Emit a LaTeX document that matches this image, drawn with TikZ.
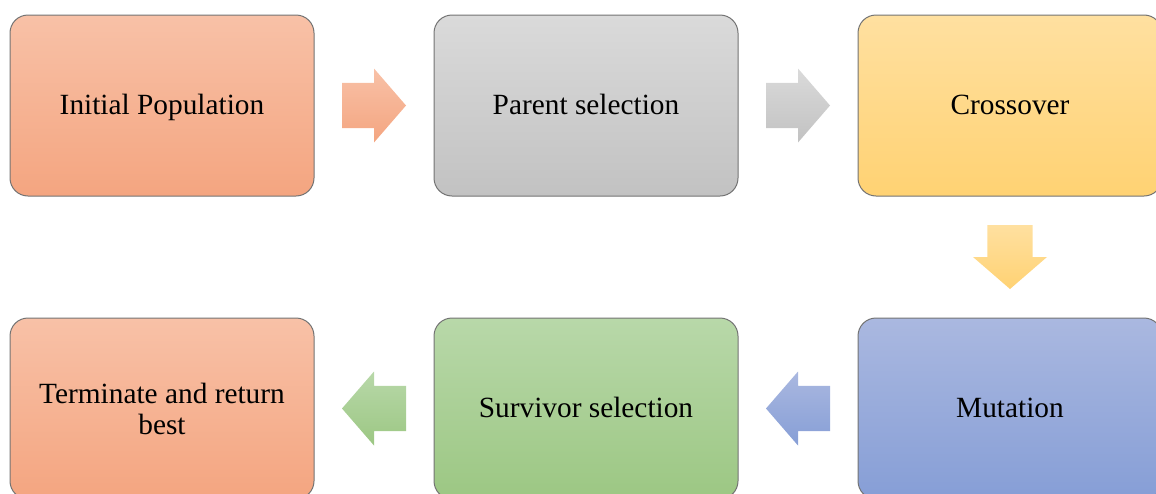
\documentclass[tikz,border=0pt]{standalone}
\usepackage{fontspec}
\setmainfont{Liberation Serif}
\usetikzlibrary{positioning,calc}
\definecolor{salmontop}{RGB}{248,193,167}
\definecolor{salmonbot}{RGB}{244,165,128}
\definecolor{greytop}{RGB}{218,218,218}
\definecolor{greybot}{RGB}{194,194,194}
\definecolor{goldtop}{RGB}{255,224,160}
\definecolor{goldbot}{RGB}{255,210,115}
\definecolor{bluetop}{RGB}{170,184,224}
\definecolor{bluebot}{RGB}{134,158,214}
\definecolor{greentop}{RGB}{184,216,169}
\definecolor{greenbot}{RGB}{156,199,131}
\newcommand{\stagestrut}{\rule[-6.6pt]{0pt}{27.4pt}}
\tikzset{
  stage/.style={draw=black!55, line width=0.75pt, rounded corners=13.5pt,
    minimum width=228pt, minimum height=135.75pt, align=center, outer sep=0pt,
    font=\fontsize{22}{23.5}\selectfont, execute at begin node=\stagestrut},
  twoline/.style={text height=39pt, text depth=0pt},
  salmon/.style={top color=salmontop, bottom color=salmonbot},
  grey/.style={top color=greytop, bottom color=greybot},
  gold/.style={top color=goldtop, bottom color=goldbot},
  blue/.style={top color=bluetop, bottom color=bluebot},
  green/.style={top color=greentop, bottom color=greenbot},
}
% block arrow half-way between two anchors
\newcommand{\blockarrow}[3]{%
  \path (#1) -- coordinate[pos=0.5] (ba-mid) (#2);
  \coordinate (ba-back) at ($(ba-mid)!-24pt!(#2)$);
  \coordinate (ba-tip) at ($(ba-mid)!24pt!(#2)$);
  \shade[#3] ($(ba-back)!16.9pt!90:(#2)$) -- ($(ba-mid)!16.9pt!90:(#2)$)
    -- ($(ba-mid)!27.75pt!90:(#2)$) -- (ba-tip)
    -- ($(ba-mid)!27.75pt!-90:(#2)$) -- ($(ba-mid)!16.9pt!-90:(#2)$)
    -- ($(ba-back)!16.9pt!-90:(#2)$) -- cycle;
}

\begin{document}
\begin{tikzpicture}[x=0.75pt, y=-0.75pt]
  \clip (0,0) rectangle (1156,493);

  % top row
  \node[stage, salmon] (init) at (162,105.5) {Initial Population};
  \node[stage, grey, right=90pt of init] (parent) {Parent selection};
  \node[stage, gold, right=90pt of parent] (cross) {Crossover};
  % bottom row
  \node[stage, blue, below=91.5pt of cross] (mut) {Mutation};
  \node[stage, green, left=90pt of mut] (surv) {Survivor selection};
  \node[stage, salmon, twoline, left=90pt of surv] (term) {Terminate and return\\best};

  \blockarrow{init.east}{parent.west}{salmon}
  \blockarrow{parent.east}{cross.west}{grey}
  \blockarrow{cross.south}{mut.north}{gold}
  \blockarrow{mut.west}{surv.east}{blue}
  \blockarrow{surv.west}{term.east}{green}
\end{tikzpicture}
\end{document}
